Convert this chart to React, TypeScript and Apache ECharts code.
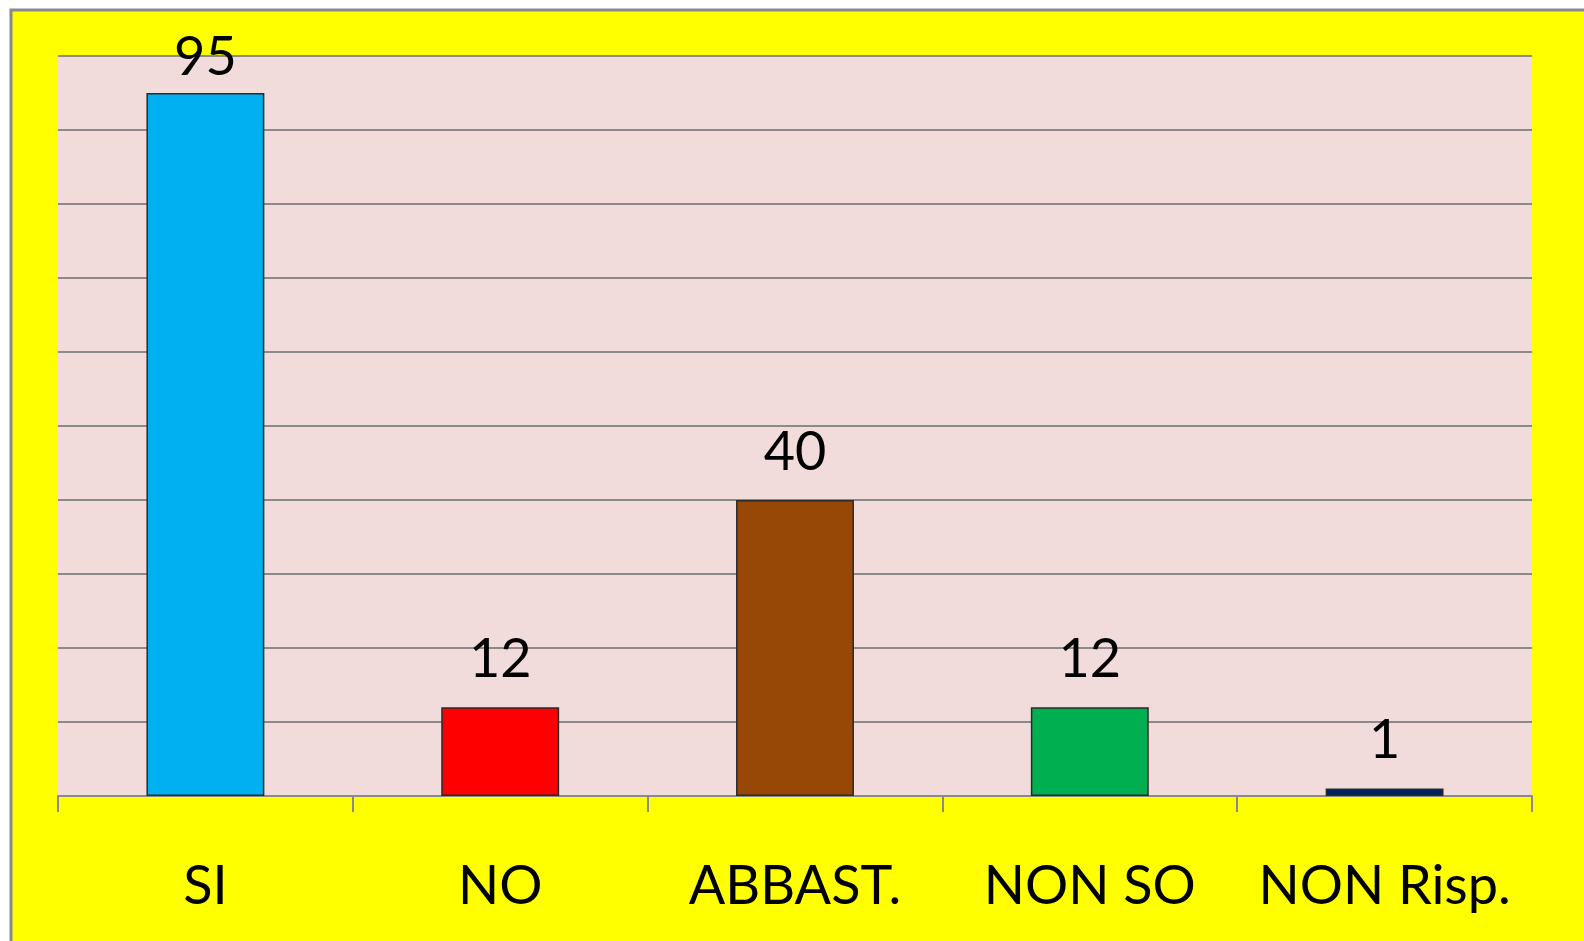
import React, { useEffect, useRef } from "react";
import * as echarts from "echarts";

const categories = ["SI", "NO", "ABBAST.", "NON SO", "NON Risp."];
const values = [95, 12, 40, 12, 1];
const barColors = ["#00b0f0", "#ff0000", "#974706", "#00b050", "#002060"];
const labelGaps = [12, 24, 24, 24, 24];
const yTicks = { min: 0, max: 100, interval: 10 };

export default function App() {
  const ref = useRef<HTMLDivElement>(null);
  useEffect(() => {
    if (!ref.current) return;
    const chart = echarts.init(ref.current, null, { renderer: "svg" });
    const font = "Lato, 'Open Sans', sans-serif";
    chart.setOption({
      animation: false,
      backgroundColor: "#ffffff",
      graphic: [
        {
          type: "rect",
          z: -10,
          silent: true,
          shape: { x: 11, y: 10, width: 1700, height: 1100 },
          style: { fill: "#ffff00", stroke: "#8a8a8a", lineWidth: 3 },
        },
      ],
      grid: {
        left: 58,
        right: 52,
        top: 56,
        bottom: 145,
        show: true,
        backgroundColor: "#f2dcdb",
        borderWidth: 0,
      },
      xAxis: {
        type: "category",
        data: categories,
        axisLine: { show: true, lineStyle: { color: "#8a8a8a", width: 2 } },
        axisTick: {
          show: true,
          interval: 0,
          alignWithLabel: false,
          length: 16,
          lineStyle: { color: "#8a8a8a", width: 2 },
        },
        axisLabel: { interval: 0, color: "#000", fontSize: 54, fontFamily: font, margin: 60 },
        splitLine: { show: false },
      },
      yAxis: {
        type: "value",
        min: yTicks.min,
        max: yTicks.max,
        interval: yTicks.interval,
        axisLine: { show: false },
        axisTick: { show: false },
        axisLabel: { show: false },
        splitLine: { show: true, lineStyle: { color: "#8a8a8a", width: 2 } },
      },
      series: [
        {
          type: "bar",
          barWidth: "40%",
          data: values.map((v, i) => ({
            value: v,
            itemStyle: { color: barColors[i], borderColor: "#2a2a2a", borderWidth: 1.5 },
            label: { distance: labelGaps[i] },
          })),
          label: {
            show: true,
            position: "top",
            distance: 24,
            color: "#000",
            fontSize: 54,
            fontFamily: font,
          },
        },
      ],
    });
    return () => chart.dispose();
  }, []);
  return (
    <div
      ref={ref}
      style={{ position: "fixed", left: 0, top: 0, width: 1584, height: 941 }}
    />
  );
}
